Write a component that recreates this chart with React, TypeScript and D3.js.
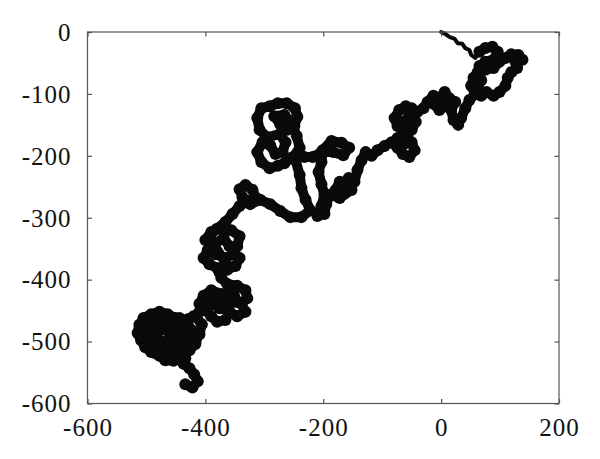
import React, { useEffect, useRef } from "react";
import * as d3 from "d3";

// walk positions, in plot units
const walkX = [
  // start
  0, 7, 14, 23, 28, 36, 41, 48, 51, 58,
  // right-hand cluster
  65, 75, 87, 96, 89, 75, 65, 75, 89, 99, 109, 119, 131, 138, 126, 129, 119, 113, 109, 99, 89, 77, 68, 62, 68, 62, 55, 51, 58, 48,
  41, 34, 29, 21, 17, 24, 14, 6, -3, 7, -3, -13, -13, -23, -30, -40, -50, -60, -71, -79,
  // band around -200
  -74, -64, -54, -43, -50, -60, -57, -64, -74, -64, -50, -45, -54, -65, -74, -84, -96, -108, -118, -128, -135, -142, -147, -157,
  -162, -172, -179, -166, -152, -172, -189, -195, -198, -210, -203, -198, -203, -208, -203, -201, -186, -169, -156, -166, -183,
  -203, -218, -232, -244, -256, -266,
  // upper loop
  -277, -291, -305, -312, -303, -290, -281, -269, -264, -274, -295, -308, -312, -305, -291, -277, -262, -248, -244, -249, -261,
  -273, -283, -266, -254, -245, -240, -247, -240,
  // strand down-left
  -237, -230, -222, -237, -256, -273, -290, -307, -324, -337, -342, -332, -320, -315, -328, -342, -354, -366, -381, -393,
  // cluster near -400
  -400, -390, -373, -356, -342, -346, -353, -366, -383, -396, -403, -393, -380, -363, -349, -342, -359, -369, -386, -366, -376, -373,
  -363, -346, -332, -329, -339, -332, -346, -359, -366, -380, -390, -400, -410, -403, -390, -373, -352, -346, -363, -376, -387,
  -372, -360, -350, -372, -400, -410, -420, -430,
  // big cluster near -500
  -417, -406, -410, -417, -427, -437, -451, -464, -478, -492, -505, -512, -515, -509, -502, -492, -478, -468, -454, -441, -427,
  -417, -430, -444, -461, -478, -492, -495, -481, -468, -454, -441, -430, -437, -451, -468, -485, -498, -505, -495, -475, -458,
  -444, -430, -424, -440, -458, -475, -488, -470, -452, -438,
  // tail
  -434, -437, -427, -419, -413, -422, -434,
];
const walkY = [
  0, -3, -8, -11, -18, -19, -26, -29, -37, -42,
  -32, -26, -24, -32, -45, -48, -55, -61, -58, -48, -42, -36, -37, -45, -48, -58, -65, -74, -87, -97, -103, -97, -103, -90, -78,
  -65, -74, -87, -100, -110, -123, -139, -150, -142, -126, -113, -107, -97, -107, -120, -126, -116, -103, -113, -123, -129, -123,
  -120, -126, -139,
  -152, -145, -136, -145, -158, -155, -168, -165, -171, -181, -178, -191, -202, -197, -187, -178, -184, -191, -200, -194, -207,
  -223, -242, -236, -249, -242, -255, -262, -255, -268, -263, -278, -294, -297, -281, -263, -246, -226, -210, -191, -176, -179,
  -187, -199, -194, -194, -202, -202, -195, -204, -212,
  -216, -220, -210, -194, -178, -183, -197, -194, -178, -165, -170, -158, -139, -123, -120, -115, -115, -123, -137, -152, -158,
  -149, -136, -134, -147, -168, -187, -207, -231,
  -252, -271, -288, -299, -299, -289, -278, -271, -278, -267, -254, -247, -255, -267, -273, -281, -294, -307, -318, -330,
  -336, -323, -317, -320, -330, -346, -359, -365, -359, -352, -365, -375, -381, -384, -378, -365, -346, -333, -343, -372, -388, -397,
  -407, -410, -417, -430, -439, -452, -459, -452, -465, -468, -459, -449, -439, -426, -417, -423, -423, -436, -439, -446, -433,
  -432, -440, -430, -446, -436, -452, -459, -464,
  -459, -472, -488, -501, -488, -468, -462, -456, -452, -456, -462, -473, -486, -498, -509, -517, -523, -530, -531, -523, -514,
  -504, -498, -494, -501, -498, -486, -475, -468, -475, -481, -478, -485, -507, -517, -514, -507, -494, -478, -465, -462, -468,
  -462, -472, -481, -492, -488, -478, -497, -506, -500, -510,
  -527, -536, -543, -553, -564, -574, -569,
];

const xTicks = [-600, -400, -200, 0, 200];
const yTicks = [0, -100, -200, -300, -400, -500, -600];

const W = 600;
const H = 459;

const App = () => {
  const ref = useRef<SVGSVGElement>(null);

  useEffect(() => {
    const svg = d3.select(ref.current);
    svg.selectAll("*").remove();

    const left = 87.5, right = 559, top = 32, bottom = 403.5;

    const x = d3.scaleLinear().domain([-600, 200]).range([left, right]);
    const y = d3.scaleLinear().domain([-600, 0]).range([bottom, top]);

    const pts: [number, number][] = walkX.map((v, i) => [v, walkY[i]]);

    const line = d3
      .line<[number, number]>()
      .x((d) => x(d[0]))
      .y((d) => y(d[1]));

    // thin start of the walk
    svg
      .append("path")
      .datum(pts.slice(0, 11))
      .attr("fill", "none")
      .attr("stroke", "#0a0a0a")
      .attr("stroke-width", 4)
      .attr("stroke-linejoin", "round")
      .attr("stroke-linecap", "round")
      .attr("d", line);

    svg
      .append("path")
      .datum(pts.slice(10))
      .attr("fill", "none")
      .attr("stroke", "#0a0a0a")
      .attr("stroke-width", 10)
      .attr("stroke-linejoin", "round")
      .attr("stroke-linecap", "round")
      .attr("d", line);

    // knobbly markers at each step
    svg
      .append("g")
      .selectAll("circle")
      .data(pts.slice(10))
      .join("circle")
      .attr("cx", (d) => x(d[0]))
      .attr("cy", (d) => y(d[1]))
      .attr("r", 6)
      .attr("fill", "#0a0a0a");

    // frame
    svg
      .append("rect")
      .attr("x", left)
      .attr("y", top)
      .attr("width", right - left)
      .attr("height", bottom - top)
      .attr("fill", "none")
      .attr("stroke", "#555")
      .attr("stroke-width", 1.2);

    const tickLen = 4.5;
    const font = "'Liberation Serif', 'DejaVu Serif', serif";
    const fmt = (d: d3.NumberValue) => String(d);

    // axes with inward ticks
    const axB = svg
      .append("g")
      .attr("transform", `translate(0,${bottom})`)
      .call(d3.axisBottom(x).tickValues(xTicks).tickFormat(fmt).tickSizeInner(-tickLen).tickSizeOuter(0));
    const axT = svg
      .append("g")
      .attr("transform", `translate(0,${top})`)
      .call(d3.axisTop(x).tickValues(xTicks).tickSizeInner(-tickLen).tickSizeOuter(0).tickFormat(() => ""));
    const axL = svg
      .append("g")
      .attr("transform", `translate(${left},0)`)
      .call(d3.axisLeft(y).tickValues(yTicks).tickFormat(fmt).tickSizeInner(-tickLen).tickSizeOuter(0).tickPadding(16));
    const axR = svg
      .append("g")
      .attr("transform", `translate(${right},0)`)
      .call(d3.axisRight(y).tickValues(yTicks).tickSizeInner(-tickLen).tickSizeOuter(0).tickFormat(() => ""));

    [axB, axT, axL, axR].forEach((g) => {
      g.select(".domain").remove();
      g.selectAll(".tick line").attr("stroke", "#555").attr("stroke-width", 1.2);
      g.selectAll("text")
        .attr("fill", "#111")
        .style("font-family", font)
        .style("font-size", "25px")
        .style("letter-spacing", "1px");
    });

    axB.selectAll("text").attr("dy", "0.71em").attr("y", 15);
    axL.selectAll("text").attr("dy", "0.33em");
  }, []);

  return (
    <svg
      ref={ref}
      width={W}
      height={H}
      style={{ position: "absolute", left: 0, top: 0, background: "#fff" }}
    />
  );
};

export default App;
